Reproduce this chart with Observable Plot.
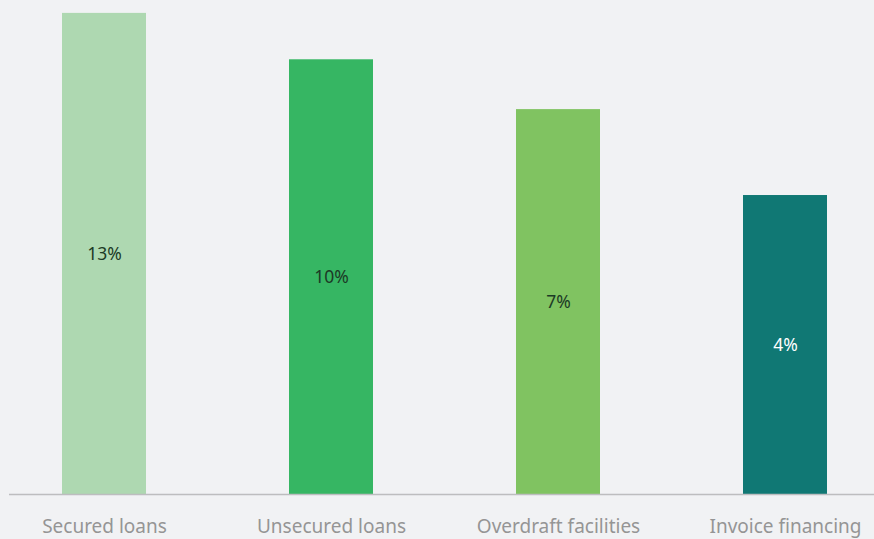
<!DOCTYPE html>
<html>
<head>
<meta charset="utf-8">
<script src="https://cdn.jsdelivr.net/npm/d3@7"></script>
<script src="https://cdn.jsdelivr.net/npm/@observablehq/plot@0.6"></script>
<style>
  html, body { margin: 0; padding: 0; background: #f1f2f4; }
  #chart svg { display: block; }
</style>
</head>
<body>
<div id="chart"></div>
<script>
const categories = ["Secured loans", "Unsecured loans", "Overdraft facilities", "Invoice financing"];
const barValues = [56, 50.6, 44.8, 34.8];
const labels = ["13%", "10%", "7%", "4%"];
const colors = ["#aed8b1", "#36b663", "#80c361", "#107874"];
const labelColors = ["#1c3a26", "#1c3a26", "#1c3a26", "#ffffff"];

const data = categories.map((c, i) => ({
  category: c, value: barValues[i], label: labels[i],
  color: colors[i], labelColor: labelColors[i]
}));

const chart = Plot.plot({
  width: 874,
  height: 539,
  marginTop: 0,
  marginBottom: 45,
  marginLeft: 15.5,
  marginRight: 1.5,
  style: { background: "#f1f2f4", fontFamily: "'Noto Sans', sans-serif" },
  x: { domain: categories, paddingInner: 0.63, paddingOuter: 0.2, label: null },
  y: { domain: [0, 57.5], axis: null },
  marks: [
    Plot.barY(data, { x: "category", y: "value", fill: "color" }),
    Plot.ruleY([0], { stroke: "#bdbdbf", strokeWidth: 1.5, insetLeft: -6.5, insetRight: -1.5 }),
    Plot.text(data, {
      x: "category", y: d => d.value / 2, text: "label",
      fill: "labelColor", fontSize: 17.5
    }),
    Plot.axisX({
      tickSize: 0, tickPadding: 25, fontSize: 19, color: "#959595", label: null
    })
  ]
});
document.getElementById("chart").appendChild(chart);
</script>
</body>
</html>
